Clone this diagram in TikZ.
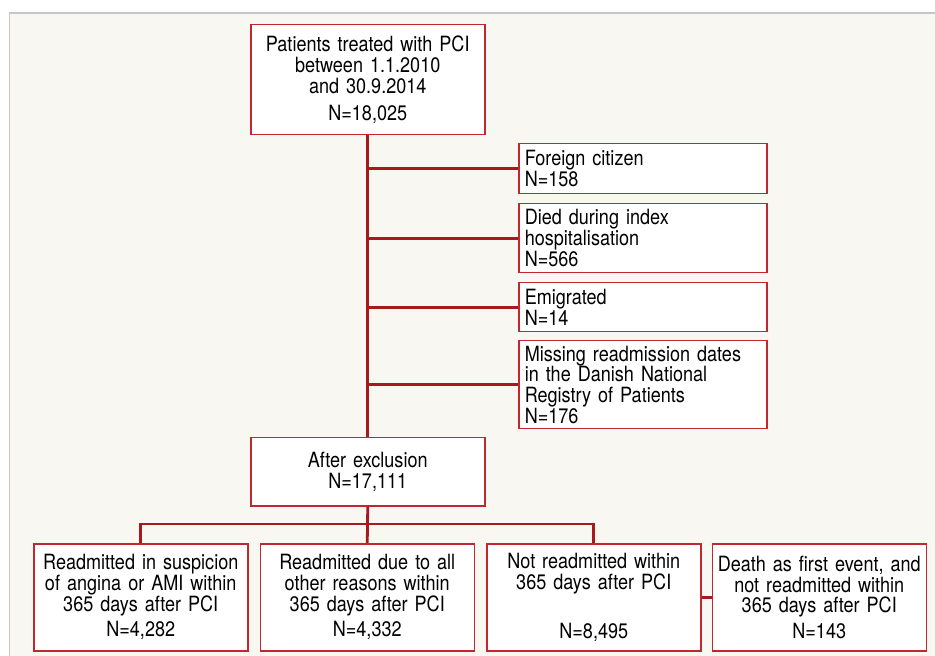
\documentclass[tikz,border=0pt]{standalone}
\usepackage{fontspec}
\setmainfont{TeX Gyre Heros}[FakeStretch=0.86]
\usepackage{tikz}
\definecolor{panelbg}{HTML}{F8F7F2}
\definecolor{panelrule}{HTML}{C6C6C6}
\definecolor{boxred}{HTML}{C0282F}
\definecolor{linkred}{HTML}{A8191F}

\begin{document}
\begin{tikzpicture}[x=.5pt, y=-.5pt,
        box/.style={draw=boxred, fill=white, line width=.75pt, anchor=north west,
            inner xsep=3pt, inner ysep=0pt, font=\fontsize{10.5}{10.4}\selectfont},
        mainbox/.style={box, text width=111pt, align=center},
        sidebox/.style={box, text width=118pt, align=left},
        endbox/.style={box, inner xsep=1.5pt, text width=104pt, minimum height=53.5pt, align=center},
        link/.style={draw=linkred, line width=1.4pt}]
            \useasboundingbox (0,0) rectangle (935,656);

            % Hintergrund.
            \fill[panelbg] (9.5,13) rectangle (935,656);
            \draw[panelrule, line width=.75pt] (9.5,656) -- (9.5,13) -- (935,13);

            % Kaesten.
            \node[mainbox, minimum height=55pt] (patients) at (250,24)
                {Patients treated with PCI\\between 1.1.2010\\and 30.9.2014\\[3pt]N=18,025};

            \node[sidebox, minimum height=25pt] (foreign) at (518,143)
                {Foreign citizen\\N=158};
            \node[sidebox, minimum height=34.5pt] (died) at (518,203)
                {Died during index\\hospitalisation\\N=566};
            \node[sidebox, minimum height=24.5pt] (emigr) at (518,282)
                {Emigrated\\N=14};
            \node[sidebox, minimum height=44pt] (missing) at (518,340)
                {Missing readmission dates\\in the Danish National\\Registry of Patients\\N=176};

            \node[mainbox, minimum height=34pt] (after) at (250,437)
                {After exclusion\\N=17,111};

            \node[endbox] (angina) at (33,543)
                {Readmitted in suspicion\\of angina or AMI within\\365 days after PCI\\[2.2pt]N=4,282};
            \node[endbox] (other) at (259.5,543)
                {Readmitted due to all\\other reasons within\\365 days after PCI\\[2.2pt]N=4,332};
            \node[endbox] (notre) at (486,543)
                {Not readmitted within\\365 days after PCI\\\strut\\[2.2pt]N=8,495};
            \node[endbox] (death) at (711.5,543)
                {Death as first event, and\\not readmitted within\\365 days after PCI\\[2.2pt]N=143};

            % Verbindungen.
            \coordinate (bus) at (367,524);
            \draw[link] (patients.south) -- (after.north);
            \foreach \n in {foreign, died, emigr, missing}
            {
                \draw[link] (patients.south |- \n.west) -- (\n.west);
            }
            \draw[link] (angina.north) |- (bus) -| (notre.north);
            \draw[link] (after.south) -- (other.north);
            \draw[link] (notre.east) -- (death.west);
        \end{tikzpicture}
\end{document}
